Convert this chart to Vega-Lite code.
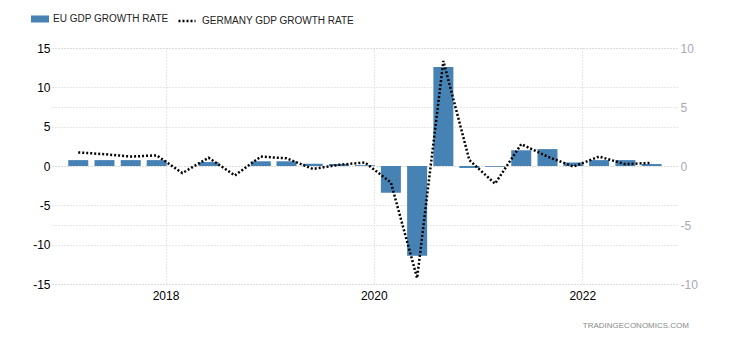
{
  "$schema": "https://vega.github.io/schema/vega-lite/v6.json",
  "autosize": "none",
  "width": 625,
  "height": 236,
  "padding": {"left": 52, "top": 48, "right": 53, "bottom": 56},
  "background": "white",
  "config": {
    "view": {"stroke": null},
    "font": "Liberation Sans",
    "axis": {"gridColor": "#cfcfcf", "gridDash": [1, 2], "gridWidth": 1, "domain": false, "ticks": false, "tickSize": 0, "labelFont": "Liberation Sans", "labelFontSize": 12, "title": null}
  },
  "title": {"text": "TRADINGECONOMICS.COM", "orient": "bottom", "anchor": "end", "frame": "group", "fontSize": 8, "fontWeight": "normal", "color": "#8a8a8a", "font": "Liberation Sans", "offset": 21, "dx": 12},
  "data": {"values": [
    {"date": "2017-03-01", "eu": 0.75, "de": 1.15},
    {"date": "2017-06-01", "eu": 0.75, "de": 1.0},
    {"date": "2017-09-01", "eu": 0.75, "de": 0.8},
    {"date": "2017-12-01", "eu": 0.75, "de": 0.9},
    {"date": "2018-03-01", "eu": 0, "de": -0.6},
    {"date": "2018-06-01", "eu": 0.5, "de": 0.7},
    {"date": "2018-09-01", "eu": 0, "de": -0.8},
    {"date": "2018-12-01", "eu": 0.6, "de": 0.8},
    {"date": "2019-03-01", "eu": 0.6, "de": 0.65},
    {"date": "2019-06-01", "eu": 0.3, "de": -0.25},
    {"date": "2019-09-01", "eu": 0.25, "de": 0.1},
    {"date": "2019-12-01", "eu": 0.1, "de": 0.3},
    {"date": "2020-03-01", "eu": -3.4, "de": -1.4},
    {"date": "2020-06-01", "eu": -11.4, "de": -9.5},
    {"date": "2020-09-01", "eu": 12.6, "de": 8.9},
    {"date": "2020-12-01", "eu": -0.25, "de": 0.5},
    {"date": "2021-03-01", "eu": -0.1, "de": -1.5},
    {"date": "2021-06-01", "eu": 2.0, "de": 1.85},
    {"date": "2021-09-01", "eu": 2.15, "de": 0.8},
    {"date": "2021-12-01", "eu": 0.45, "de": -0.05},
    {"date": "2022-03-01", "eu": 0.75, "de": 0.8},
    {"date": "2022-06-01", "eu": 0.75, "de": 0.15},
    {"date": "2022-09-01", "eu": 0.25, "de": 0.27}
  ]},
  "encoding": {
    "x": {
      "field": "date", "type": "temporal",
      "scale": {"type": "utc", "padding": 0, "domain": [{"year": 2016, "month": 11, "date": 29, "utc": true}, {"year": 2022, "month": 11, "date": 29, "utc": true}]},
      "axis": {"values": [{"year": 2018, "month": 1, "date": 1, "utc": true}, {"year": 2020, "month": 1, "date": 1, "utc": true}, {"year": 2022, "month": 1, "date": 1, "utc": true}], "format": "%Y", "formatType": "utc", "labelColor": "#000000", "labelPadding": 6, "grid": true}
    }
  },
  "layer": [
    {
      "mark": {"type": "bar", "width": 20, "color": "#4682b4", "opacity": 1},
      "encoding": {
        "y": {"field": "eu", "type": "quantitative", "scale": {"domain": [-15, 15], "nice": false, "zero": false}, "axis": {"orient": "left", "values": [-15, -10, -5, 0, 5, 10, 15], "labelExpr": "'' + datum.value", "labelColor": "#000000", "labelPadding": 2, "grid": true}},
        "color": {"datum": "EU GDP GROWTH RATE", "scale": {"range": ["#4682b4"]}, "legend": {"orient": "none", "legendX": -21, "legendY": -38, "title": null, "padding": 0, "symbolType": "M-1,-0.39H1V0.39H-1Z", "symbolSize": 324, "symbolStrokeWidth": 0, "symbolOpacity": 1, "labelFont": "Liberation Sans", "labelFontSize": 10, "labelColor": "#222222", "labelOffset": 4}}
      }
    },
    {
      "mark": {"type": "line", "color": "#000000", "strokeWidth": 2.5, "strokeCap": "butt"},
      "encoding": {
        "y": {"field": "de", "type": "quantitative", "scale": {"domain": [-10, 10], "nice": false, "zero": false}, "axis": {"orient": "right", "values": [-10, -5, 0, 5, 10], "labelExpr": "'' + datum.value", "labelColor": "#a8a8b8", "labelPadding": 3, "grid": true}},
        "strokeDash": {"datum": "GERMANY GDP GROWTH RATE", "scale": {"range": [[2, 2]]}, "legend": {"orient": "none", "legendX": 125, "legendY": -37, "title": null, "padding": 0, "symbolType": "stroke", "symbolSize": 289, "symbolStrokeColor": "#000000", "symbolStrokeWidth": 2.5, "labelFont": "Liberation Sans", "labelFontSize": 10, "labelColor": "#222222", "labelOffset": 5}}
      }
    }
  ],
  "resolve": {"scale": {"y": "independent"}}
}
